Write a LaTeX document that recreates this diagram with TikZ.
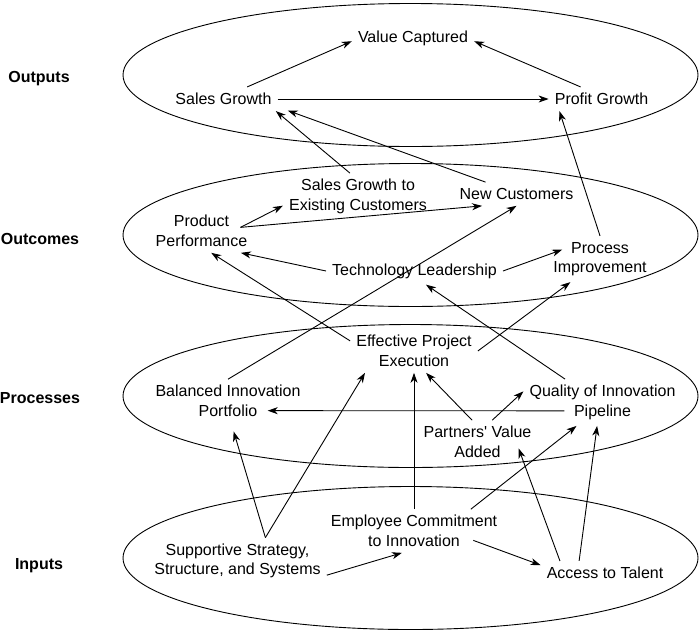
\documentclass[tikz,border=0pt]{standalone}
\usepackage{fontspec}
\setmainfont{Liberation Sans}
\usetikzlibrary{arrows.meta}

\begin{document}
\begin{tikzpicture}[
    x=1pt, y=-1pt,
    box/.style={
        align=center,
        inner sep=6pt,
        font=\fontsize{16}{19.5}\selectfont
    },
    tier/.style={
        font=\fontsize{16}{19.5}\selectfont\bfseries
    },
    band/.style={
        draw,
        line width=0.9pt
    },
    arrow/.style={
        -{Stealth[length=10pt,width=7pt,inset=3pt]},
        line width=0.9pt
    }
]
\useasboundingbox (0,0) rectangle (700,632);

% layers
\draw[band] (410.5,75) ellipse [x radius=287.5pt, y radius=71.5pt];
\draw[band] (410.5,235) ellipse [x radius=287.5pt, y radius=71.5pt];
\draw[band] (410.5,396) ellipse [x radius=287.5pt, y radius=71.5pt];
\draw[band] (410.5,558) ellipse [x radius=287.5pt, y radius=71.5pt];

\node[tier] (outputs) at (39,79) {Outputs};
\node[tier] (outcomes) at (40,239) {Outcomes};
\node[tier] (processes) at (40,398) {Processes};
\node[tier] (inputs) at (39,566) {Inputs};

% nodes
\node[box] (value) at (413,38) {Value Captured};
\node[box] (sales) at (223.5,99) {Sales Growth};
\node[box] (profit) at (601.5,99) {Profit Growth};

\node[box] (existing) at (358,196.5) {Sales Growth to\\Existing Customers};
\node[box] (newcust) at (516.5,194) {New Customers};
\node[box] (product) at (201.5,231) {Product\\Performance};
\node[box] (techlead) at (414.5,271) {Technology Leadership};
\node[box] (process) at (600,259) {Process\\Improvement};

\node[box] (execution) at (414,351) {Effective Project\\Execution};
\node[box] (portfolio) at (228,401) {Balanced Innovation\\Portfolio};
\node[box] (pipeline) at (602.5,402.5) {Quality of Innovation\\Pipeline};
\node[box] (partners) at (477.5,442) {Partners\textquotesingle{} Value\\Added};

\node[box] (commitment) at (414,531) {Employee Commitment\\to Innovation};
\node[box] (strategy) at (237.5,561) {Supportive Strategy,\\Structure, and Systems};
\node[box] (talent) at (605,573) {Access to Talent};

% outputs
\draw[arrow] (sales.27) -- (value.183);
\draw[arrow] (profit.150) -- (value.357);
\draw[arrow] (sales.east) -- (profit.west);

% outcomes
\draw[arrow] (existing.109) -- (sales.347);
\draw[arrow] (newcust.159) -- ([xshift=10pt]sales.348);
\draw[arrow] (process.north) -- (profit.196);
\draw[arrow] ([xshift=-13pt]product.4) -- (existing.187);
\draw[arrow] ([xshift=-13pt]product.4) -- (newcust.199);
\draw[arrow] (techlead.west) -- (product.331);
\draw[arrow] (techlead.east) -- ([xshift=15pt]process.170);

% processes
\draw[arrow] (portfolio.north) -- (newcust.south);
\draw[arrow] (execution.171) -- (product.294);
\draw[arrow] (execution.east) -- (process.218);
\draw[arrow] (pipeline.148) -- (techlead.310);
\draw[arrow] ([xshift=41pt]pipeline.186) -- ([xshift=-39pt]portfolio.353);
\draw[arrow] (partners.104) -- (execution.299);
\draw[arrow] (partners.56) -- (pipeline.172);

% inputs
\draw[arrow] (commitment.north) -- (execution.south);
\draw[arrow, shorten >=9pt] (strategy.40) -- (portfolio.278);
\draw[arrow] (strategy.40) -- (execution.204);
\draw[arrow] (commitment.21) -- (pipeline.222);
\draw[arrow] (talent.165) -- ([xshift=-19pt]partners.354);
\draw[arrow] (talent.155) -- (pipeline.257);
\draw[arrow] (strategy.351) -- (commitment.241);
\draw[arrow] ([xshift=-30pt]commitment.354) -- (talent.173);

\end{tikzpicture}
\end{document}
